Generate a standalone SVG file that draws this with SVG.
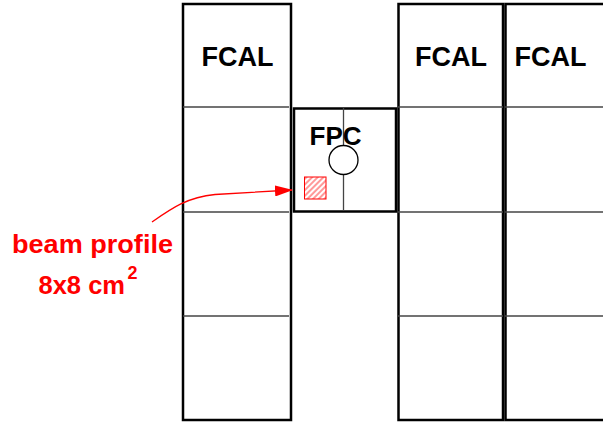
<svg xmlns="http://www.w3.org/2000/svg" width="603" height="422" viewBox="0 0 603 422">
<style>
.col{fill:none;stroke:#000;stroke-width:2.5}
.div{stroke:#444;stroke-width:1.3}
.lbl{font-family:"Liberation Sans",Arial,sans-serif;font-weight:bold;fill:#000}
.red{font-family:"Liberation Sans",Arial,sans-serif;font-weight:bold;fill:#ff0000}
</style>
<defs>
<pattern id="hatch" patternUnits="userSpaceOnUse" width="4" height="4" patternTransform="rotate(-45)">
<line x1="0" y1="2" x2="4" y2="2" stroke="#ff0000" stroke-width="0.8"/>
</pattern>
<marker id="arr" markerWidth="18" markerHeight="11" refX="17" refY="5.5" orient="auto" markerUnits="userSpaceOnUse">
<path d="M0,0 L18,5.5 L0,11 Z" fill="#ff0000"/>
</marker>
</defs>
<g id="fcal-left">
<rect class="col" x="183" y="4" width="108" height="416"/>
<line class="div" x1="183" y1="107" x2="289" y2="107"/>
<line class="div" x1="183" y1="212" x2="289" y2="212"/>
<line class="div" x1="183" y1="316" x2="289" y2="316"/>
<text class="lbl" x="237.5" y="66" font-size="27" text-anchor="middle">FCAL</text>
</g>
<g id="fcal-mid">
<rect class="col" x="398.5" y="4" width="104.5" height="416"/>
<line class="div" x1="398" y1="107" x2="503" y2="107"/>
<line class="div" x1="398" y1="212" x2="503" y2="212"/>
<line class="div" x1="398" y1="316" x2="503" y2="316"/>
<text class="lbl" x="451" y="66" font-size="27" text-anchor="middle">FCAL</text>
</g>
<g id="fcal-right">
<rect class="col" x="505.5" y="4" width="110" height="416"/>
<line class="div" x1="505" y1="107" x2="603" y2="107"/>
<line class="div" x1="505" y1="212" x2="603" y2="212"/>
<line class="div" x1="505" y1="316" x2="603" y2="316"/>
<text class="lbl" x="550.5" y="66" font-size="27" text-anchor="middle">FCAL</text>
</g>
<g id="fpc">
<rect x="294" y="108.5" width="102" height="103" fill="#fff" stroke="#000" stroke-width="2.5"/>
<line x1="343.5" y1="108" x2="343.5" y2="211" stroke="#444" stroke-width="1.3"/>
<circle cx="343.5" cy="160" r="14.5" fill="#fff" stroke="#000" stroke-width="1.3"/>
<text class="lbl" x="335.5" y="145" font-size="26" text-anchor="middle">FPC</text>
<rect x="304.5" y="177" width="21.5" height="22" fill="url(#hatch)" stroke="#ff0000" stroke-width="1"/>
</g>
<g id="connectors">
<path d="M152,222 C172,208 188,197 215,194.5 L292,190" fill="none" stroke="#ff0000" stroke-width="1.3" marker-end="url(#arr)"/>
</g>
<g id="label">
<text class="red" x="12" y="253" font-size="25" textLength="161" lengthAdjust="spacingAndGlyphs">beam profile</text>
<text class="red" x="38.5" y="293.5" font-size="25" textLength="86.5" lengthAdjust="spacingAndGlyphs">8x8 cm</text>
<text class="red" x="127.5" y="278.5" font-size="18">2</text>
</g>
</svg>
